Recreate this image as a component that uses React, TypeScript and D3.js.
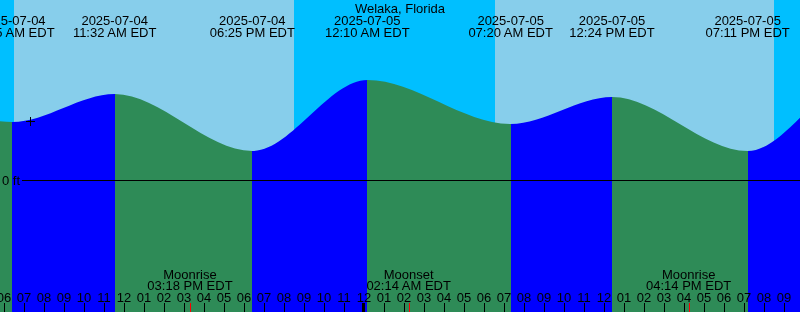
import React from "react";
import * as d3 from "d3";

const W = 800;
const H = 312;
const parse = d3.timeParse("%Y-%m-%d %H:%M");

const title = "Welaka, Florida";
const domainStart = "2025-07-04 05:48";
const domainEnd = "2025-07-05 21:48";

// tide extremes (the outer ones lie outside the visible window)
const tideTimes = [
  "2025-07-03 17:40",
  "2025-07-03 23:50",
  "2025-07-04 06:25",
  "2025-07-04 11:32",
  "2025-07-04 18:25",
  "2025-07-05 00:10",
  "2025-07-05 07:20",
  "2025-07-05 12:24",
  "2025-07-05 19:11",
  "2025-07-06 00:50",
  "2025-07-06 08:10",
];
const tideLevels = [0.15, 0.45, 0.29, 0.43, 0.145, 0.5, 0.28, 0.415, 0.145, 0.52, 0.27];
const tideLabelled = [false, false, true, true, true, true, true, true, true, false, false];

// sunrise / sunset
const sunTimes = ["2025-07-04 06:29", "2025-07-04 20:29", "2025-07-05 06:32", "2025-07-05 20:29"];

// moon events
const moonTimes = ["2025-07-04 15:18", "2025-07-05 02:14", "2025-07-05 16:14"];
const moonNames = ["Moonrise", "Moonset", "Moonrise"];

// current-time marker
const markerTime = "2025-07-04 07:18";
const markerLevel = 0.2975;

const datumLevel = 0;
const datumLabel = "0 ft";

const COLORS = {
  night: "#00BFFF",
  day: "#87CEEB",
  rising: "#0000FF",
  falling: "#2E8B57",
  text: "#000000",
};
const FONT = "'Liberation Sans', Arial, sans-serif";

export default function App() {
  const x = d3.scaleTime().domain([parse(domainStart)!, parse(domainEnd)!]).range([0, W]);
  const y = d3.scaleLinear().domain([0, 1]).range([180, -20]);

  const tides = tideTimes.map((t, i) => ({ t: parse(t)!, v: tideLevels[i], lab: tideLabelled[i] }));

  const area = d3
    .area<{ t: Date; v: number }>()
    .x((d) => x(d.t))
    .y0(H)
    .y1((d) => y(d.v))
    .curve(d3.curveMonotoneX);

  // sky segments
  const skyBounds = [parse(domainStart)!, ...sunTimes.map((s) => parse(s)!), parse(domainEnd)!];
  const sky = skyBounds.slice(0, -1).map((t0, i) => ({
    x0: x(t0),
    x1: x(skyBounds[i + 1]),
    color: i % 2 === 0 ? COLORS.night : COLORS.day,
  }));

  // water segments
  const water = tides.slice(0, -1).map((d, i) => ({
    x0: x(d.t),
    x1: x(tides[i + 1].t),
    color: tides[i + 1].v > d.v ? COLORS.rising : COLORS.falling,
  }));

  const hours = d3.timeHour.range(parse(domainStart)!, parse(domainEnd)!);
  const fmtHour = d3.timeFormat("%I");
  const fmtDate = d3.timeFormat("%Y-%m-%d");
  const fmtTime = d3.timeFormat("%I:%M %p EDT");

  const moons = moonTimes.map((t, i) => ({ t: parse(t)!, name: moonNames[i] }));
  const mx = x(parse(markerTime)!);
  const my = y(markerLevel);

  return (
    <svg
      width={W}
      height={H}
      style={{ position: "fixed", left: 0, top: 0, display: "block" }}
      fontFamily={FONT}
      fontSize={13}
    >
      <defs>
        <clipPath id="waterClip">
          <path d={area(tides) || ""} />
        </clipPath>
      </defs>
      {sky.map((s, i) => (
        <rect key={"s" + i} x={s.x0} y={0} width={s.x1 - s.x0} height={H} fill={s.color} shapeRendering="crispEdges" />
      ))}
      <g clipPath="url(#waterClip)">
        {water.map((s, i) => (
          <rect key={"w" + i} x={s.x0} y={0} width={s.x1 - s.x0} height={H} fill={s.color} shapeRendering="crispEdges" />
        ))}
      </g>

      {/* datum line */}
      <line x1={22} x2={W} y1={Math.round(y(datumLevel)) + 0.5} y2={Math.round(y(datumLevel)) + 0.5} stroke="#000" strokeWidth={1} />
      <text x={20} y={y(datumLevel) + 5} textAnchor="end" fill={COLORS.text}>
        {datumLabel}
      </text>

      {/* marker */}
      <g stroke="#000" strokeWidth={1} shapeRendering="crispEdges">
        <line x1={Math.round(mx) - 4} x2={Math.round(mx) + 5} y1={Math.round(my) + 0.5} y2={Math.round(my) + 0.5} />
        <line x1={Math.round(mx) + 0.5} x2={Math.round(mx) + 0.5} y1={Math.round(my) - 4} y2={Math.round(my) + 5} />
      </g>

      {/* title */}
      <text x={W / 2} y={12.5} textAnchor="middle" fill={COLORS.text}>
        {title}
      </text>

      {/* tide labels */}
      {tides
        .filter((d) => d.lab)
        .map((d, i) => (
          <g key={"tl" + i}>
            <text x={x(d.t)} y={24.5} textAnchor="middle" fill={COLORS.text}>
              {fmtDate(d.t)}
            </text>
            <text x={x(d.t)} y={36.5} textAnchor="middle" fill={COLORS.text}>
              {fmtTime(d.t)}
            </text>
          </g>
        ))}

      {/* moon labels */}
      {moons.map((m, i) => (
        <g key={"m" + i}>
          <text x={x(m.t)} y={278.5} textAnchor="middle" fill={COLORS.text}>
            {m.name}
          </text>
          <text x={x(m.t)} y={289.5} textAnchor="middle" fill={COLORS.text}>
            {fmtTime(m.t)}
          </text>
        </g>
      ))}

      {/* hour axis */}
      {hours.map((h, i) => {
        const px = x(h);
        const midnight = h.getHours() === 0;
        return (
          <g key={"h" + i}>
            <text x={px} y={302} textAnchor="middle" fill={COLORS.text}>
              {fmtHour(h)}
            </text>
            {midnight ? (
              <rect x={Math.round(px) - 2} y={303} width={3} height={9} fill="#000" shapeRendering="crispEdges" />
            ) : (
              <line x1={Math.round(px) + 0.5} x2={Math.round(px) + 0.5} y1={303} y2={312} stroke="#000" shapeRendering="crispEdges" />
            )}
          </g>
        );
      })}
      {moons.map((m, i) => (
        <line
          key={"mt" + i}
          x1={Math.round(x(m.t)) + 0.5}
          x2={Math.round(x(m.t)) + 0.5}
          y1={303}
          y2={312}
          stroke="#FF0000"
          shapeRendering="crispEdges"
        />
      ))}
    </svg>
  );
}
